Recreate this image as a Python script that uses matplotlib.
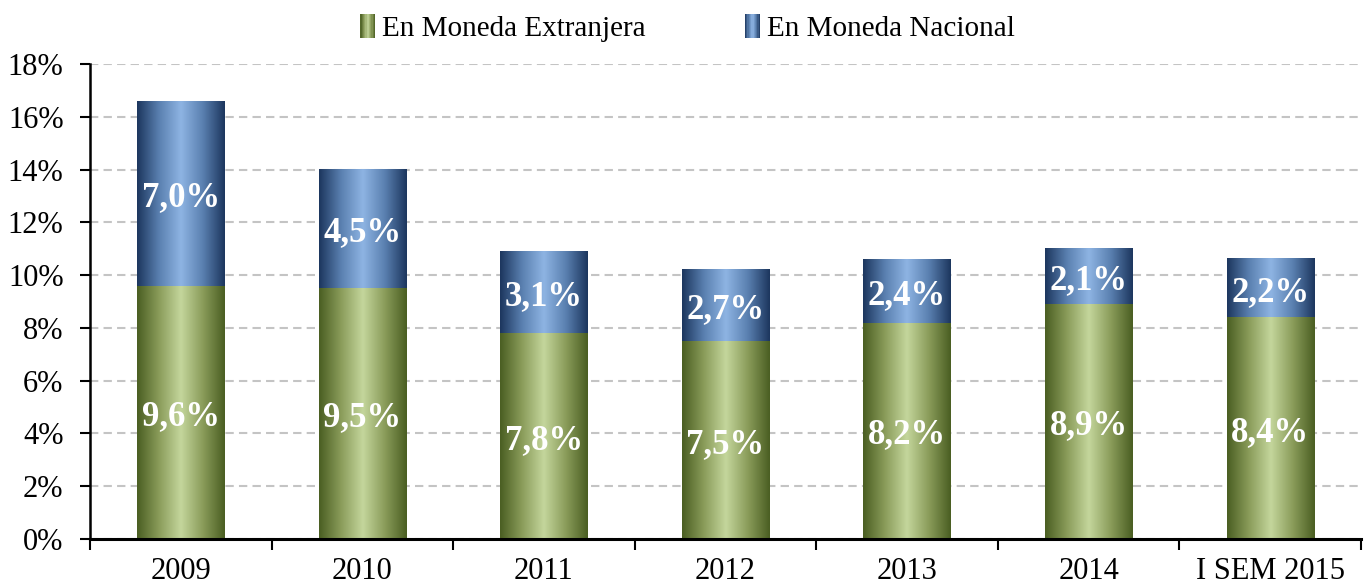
#!/usr/bin/env python

""" stacked bars: foreign vs national currency share """

import numpy as np
import matplotlib
matplotlib.use("Agg")
import matplotlib.pyplot as plt
from matplotlib.colors import LinearSegmentedColormap
from matplotlib.legend_handler import HandlerBase
from matplotlib.patches import Rectangle

categories = ["2009", "2010", "2011", "2012", "2013", "2014", "I SEM 2015"]
extranjera = [9.6, 9.5, 7.8, 7.5, 8.2, 8.9, 8.4]
nacional = [7.0, 4.5, 3.1, 2.7, 2.4, 2.1, 2.2]
labels_ext = ["9,6%", "9,5%", "7,8%", "7,5%", "8,2%", "8,9%", "8,4%"]
labels_nac = ["7,0%", "4,5%", "3,1%", "2,7%", "2,4%", "2,1%", "2,2%"]

green_cmap = LinearSegmentedColormap.from_list(
    "g", ["#4a5e22", "#8a9c5a", "#c4d69c", "#8a9c5a", "#4a5e22"])
blue_cmap = LinearSegmentedColormap.from_list(
    "b", ["#1c365e", "#5a80b0", "#8eb4e3", "#5a80b0", "#1c365e"])

grad = np.linspace(0, 1, 256).reshape(1, -1)


def fill_gradient(ax, patches, cmap):
    for p in patches:
        x0, y0 = p.get_x(), p.get_y()
        w, h = p.get_width(), p.get_height()
        ax.imshow(grad, cmap=cmap, aspect="auto", interpolation="bicubic",
                  extent=(x0, x0 + w, y0, y0 + h), zorder=3)
        p.set_visible(False)


class GradHandler(HandlerBase):
    def __init__(self, cmap):
        super().__init__()
        self.cmap = cmap

    def create_artists(self, legend, orig, xd, yd, width, height,
                       fontsize, trans):
        n = 12
        w = height * 0.72
        x0 = xd + width - w
        arts = []
        for i in range(n):
            r = Rectangle((x0 + i * w / n, yd - 1.5), w / n, height + 2,
                          facecolor=self.cmap((i + 0.5) / n),
                          edgecolor="none", transform=trans)
            arts.append(r)
        return arts


def main():
    plt.rcParams["font.family"] = ["Liberation Serif", "DejaVu Serif"]
    fig = plt.figure(figsize=(13.71, 5.87), dpi=100)
    ax = fig.add_axes([0.0656, 0.0818, 0.9271, 0.8092])

    x = np.arange(len(categories))
    width = 0.48
    b1 = ax.bar(x, extranjera, width, label="En Moneda Extranjera",
                color="#8a9c5a")
    b2 = ax.bar(x, nacional, width, bottom=extranjera,
                label="En Moneda Nacional", color="#5a80b0")
    fill_gradient(ax, b1, green_cmap)
    fill_gradient(ax, b2, blue_cmap)

    for i in range(len(categories)):
        ax.annotate(labels_ext[i], (x[i], extranjera[i] / 2.0),
                    xytext=(0, -3), textcoords="offset points",
                    ha="center", va="center", color="white", fontsize=25,
                    fontweight="bold", zorder=5)
        ax.annotate(labels_nac[i], (x[i], extranjera[i] + nacional[i] / 2.0),
                    xytext=(0, -3), textcoords="offset points",
                    ha="center", va="center", color="white", fontsize=25,
                    fontweight="bold", zorder=5)

    ax.set_xlim(-0.5, len(categories) - 0.5)
    ax.set_ylim(0, 18)
    ax.set_yticks(np.arange(0, 19, 2))
    ax.set_yticklabels(["%d%%" % v for v in range(0, 19, 2)], fontsize=22)
    ax.set_xticks(x)
    ax.set_xticklabels(categories, fontsize=22)
    ax.set_xticks(np.arange(-0.5, len(categories), 1), minor=True)
    ax.tick_params(axis="x", which="major", length=0, pad=13)
    ax.tick_params(axis="x", which="minor", length=8, width=1.5,
                   direction="out")
    ax.tick_params(axis="y", length=7, width=1.5, direction="out", pad=12)

    ax.yaxis.grid(True, linestyle=(0, (4, 2.5)), color="#c4c4c4",
                  linewidth=1.5, zorder=0)
    ax.set_axisbelow(True)
    for s in ["top", "right"]:
        ax.spines[s].set_visible(False)
    ax.spines["left"].set_linewidth(1.8)
    ax.spines["bottom"].set_linewidth(2.2)
    ax.spines["bottom"].set_zorder(6)

    ax.legend([b1, b2], ["En Moneda Extranjera", "En Moneda Nacional"],
              handler_map={b1: GradHandler(green_cmap),
                           b2: GradHandler(blue_cmap)},
              loc="center", bbox_to_anchor=(0.468, 1.075), ncol=2,
              frameon=False, fontsize=21, handlelength=0.7,
              handletextpad=0.25, columnspacing=3.2)

    fig.savefig("out.png", dpi=100)


if __name__ == "__main__":
    main()
